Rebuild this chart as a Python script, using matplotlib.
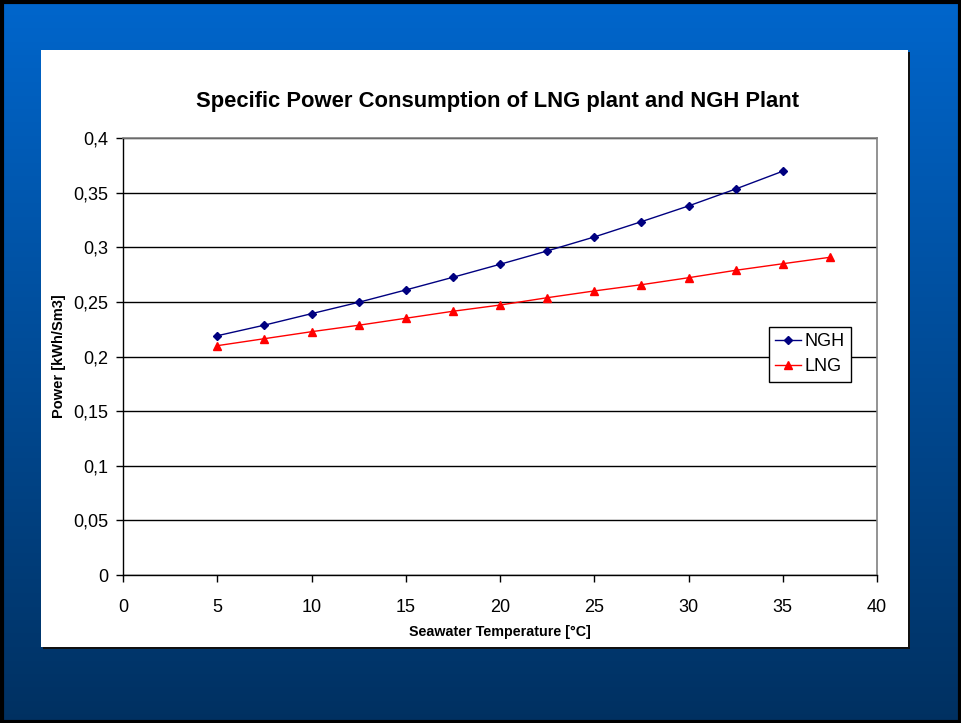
import matplotlib
matplotlib.use("Agg")
import matplotlib.pyplot as plt
import numpy as np
from matplotlib.patches import Rectangle

plt.rcParams['font.family'] = ['Liberation Sans', 'DejaVu Sans']

# Data
ngh_temp = [5, 7.5, 10, 12.5, 15, 17.5, 20, 22.5, 25, 27.5, 30, 32.5, 35]
ngh_power = [0.219, 0.2287, 0.2392, 0.2496, 0.2609, 0.2725, 0.2844, 0.2966,
             0.3094, 0.3234, 0.3378, 0.3533, 0.3696]
lng_temp = [5, 7.5, 10, 12.5, 15, 17.5, 20, 22.5, 25, 27.5, 30, 32.5, 35, 37.5]
lng_power = [0.2099, 0.2163, 0.2227, 0.2286, 0.2350, 0.2414, 0.2471, 0.2538,
             0.2600, 0.2657, 0.2721, 0.2789, 0.2849, 0.2908]
xticks = [0, 5, 10, 15, 20, 25, 30, 35, 40]
yticks = [0, 0.05, 0.1, 0.15, 0.2, 0.25, 0.3, 0.35, 0.4]
ytick_labels = ['0', '0,05', '0,1', '0,15', '0,2', '0,25', '0,3', '0,35', '0,4']

W, H = 961, 723
fig = plt.figure(figsize=(W / 100, H / 100), dpi=100)

# Background gradient
bg = fig.add_axes([0, 0, 1, 1], zorder=-10)
bg.set_axis_off()
top = np.array([0.0, 0.40, 0.80])
bot = np.array([0.0, 0.19, 0.38])
t = np.linspace(0, 1, 256)[:, None]
grad = top[None, :] * (1 - t) + bot[None, :] * t
grad = grad[:, None, :].repeat(2, axis=1)
bg.imshow(grad, aspect='auto', extent=[0, 1, 0, 1], origin='upper')
bg.set_xlim(0, 1)
bg.set_ylim(0, 1)
# outer black frame
bg.add_patch(Rectangle((1.5 / W, 1.5 / H), 1 - 3 / W, 1 - 3 / H, fill=False,
                       edgecolor='black', linewidth=3, transform=fig.transFigure))

# White panel with shadow
px0, px1, py0, py1 = 41, 908, 50, 647
fig.patches.append(Rectangle((px0 / W + 2 / W, 1 - py1 / H - 2 / H), (px1 - px0) / W, (py1 - py0) / H,
                             transform=fig.transFigure, facecolor='#111111', edgecolor='none', zorder=-5))
fig.patches.append(Rectangle((px0 / W, 1 - py1 / H), (px1 - px0) / W, (py1 - py0) / H,
                             transform=fig.transFigure, facecolor='white', edgecolor='none', zorder=-4))

# Main axes
ax0, ax1, ay0, ay1 = 123, 877, 138, 575
ax = fig.add_axes([ax0 / W, 1 - ay1 / H, (ax1 - ax0) / W, (ay1 - ay0) / H])
ax.set_facecolor('white')

ax.plot(ngh_temp, ngh_power, color='#000080', marker='D', markersize=4,
        linewidth=1, label='NGH', zorder=3)
ax.plot(lng_temp, lng_power, color='#ff0000', marker='^', markersize=6,
        linewidth=1, label='LNG', zorder=3)

ax.set_xlim(0, 40)
ax.set_ylim(0, 0.4)
ax.set_xticks(xticks)
ax.set_xticklabels([str(v) for v in xticks])
ax.set_yticks(yticks)
ax.set_yticklabels(ytick_labels)
ax.grid(axis='y', color='black', linewidth=1)
ax.set_axisbelow(True)
ax.tick_params(axis='both', direction='out', length=5, width=1, labelsize=13,
               colors='black')
ax.tick_params(axis='y', pad=5.5)
ax.tick_params(axis='x', pad=12)
for s in ['left', 'bottom']:
    ax.spines[s].set_color('black')
    ax.spines[s].set_linewidth(1)
for s in ['top', 'right']:
    ax.spines[s].set_color('#808080')
    ax.spines[s].set_linewidth(1.2)

ax.set_xlabel('Seawater Temperature [°C]', fontsize=10.3, fontweight='bold', labelpad=7)
ax.set_ylabel('Power [kWh/Sm3]', fontsize=10.5, fontweight='bold', labelpad=5)

fig.text(498 / W, 1 - 101 / H, 'Specific Power Consumption of LNG plant and NGH Plant',
         ha='center', va='center', fontsize=15.8, fontweight='bold')

leg = ax.legend(loc='upper left', bbox_to_anchor=(769 / W, 1 - 327 / H),
                bbox_transform=fig.transFigure, borderaxespad=0, fancybox=False,
                edgecolor='black', fontsize=13, handlelength=1.4, handletextpad=0.2,
                borderpad=0.35, labelspacing=0.45, framealpha=1)
leg.get_frame().set_linewidth(1)

fig.savefig('out.png', dpi=100)
